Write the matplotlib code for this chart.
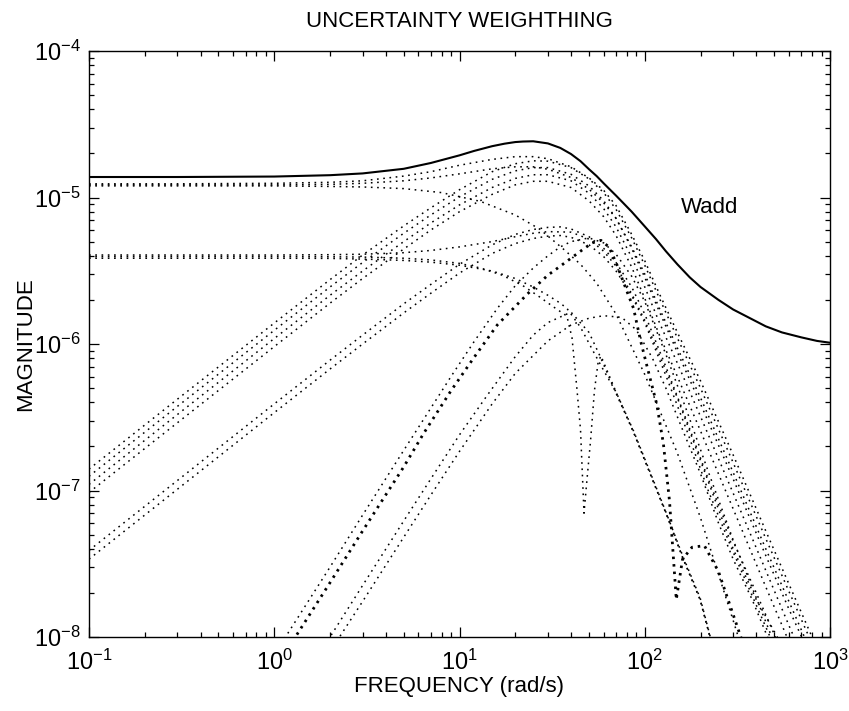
"""Uncertainty weighting: additive weight Wadd bounding the model error curves."""

import matplotlib
matplotlib.use("Agg")
import matplotlib.pyplot as plt
from matplotlib import font_manager
from matplotlib.ticker import LogLocator, NullFormatter


# solid bound
WADD_FREQ = [0.1, 0.3, 1, 2, 3, 5, 7, 10, 12, 15, 17.5, 20, 22, 25, 30, 35, 40, 45, 50, 55,
             60, 65, 70, 77, 85, 92, 100, 115, 130, 150, 175, 200, 250, 300, 370, 450, 550,
             700, 850, 1000]
WADD_MAG = [1.38e-5, 1.38e-5, 1.39e-5, 1.42e-5, 1.46e-5, 1.57e-5, 1.72e-5, 1.94e-5, 2.08e-5,
            2.24e-5, 2.33e-5, 2.39e-5, 2.41e-5, 2.42e-5, 2.34e-5, 2.18e-5, 1.98e-5, 1.77e-5,
            1.56e-5, 1.4e-5, 1.25e-5, 1.13e-5, 1.03e-5, 9.1e-6, 8.0e-6, 7.15e-6, 6.35e-6,
            5.2e-6, 4.3e-6, 3.5e-6, 2.85e-6, 2.45e-6, 2.0e-6, 1.72e-6, 1.5e-6, 1.32e-6,
            1.2e-6, 1.11e-6, 1.05e-6, 1.02e-6]

# dotted error curves, main band
GRID_MAIN = [0.1, 0.3, 1, 2, 3, 5, 7, 10, 15, 20, 25, 30, 40, 50, 60, 70, 85, 100, 120, 150,
             200, 300, 450, 600, 800, 1000]
A1_MAG = [1.24e-5, 1.24e-5, 1.25e-5, 1.27e-5, 1.3e-5, 1.4e-5, 1.5e-5, 1.66e-5, 1.82e-5, 1.9e-5,
          1.9e-5, 1.84e-5, 1.62e-5, 1.36e-5, 1.12e-5, 8.8e-6, 5.6e-6, 3.7e-6, 2.2e-6, 1.2e-6,
          5.6e-7, 1.75e-7, 5.3e-8, 2.3e-8, 1.0e-8, 5.2e-9]
A2_MAG = [1.22e-5, 1.22e-5, 1.22e-5, 1.23e-5, 1.25e-5, 1.3e-5, 1.36e-5, 1.45e-5, 1.57e-5,
          1.62e-5, 1.62e-5, 1.56e-5, 1.37e-5, 1.14e-5, 9.2e-6, 7.2e-6, 4.6e-6, 3.0e-6, 1.75e-6,
          9.4e-7, 4.3e-7, 1.33e-7, 4.0e-8, 1.75e-8, 7.6e-9, 4e-9]
C1_MAG = [1.4e-7, 4.2e-7, 1.39e-6, 2.75e-6, 4.05e-6, 6.4e-6, 8.5e-6, 1.13e-5, 1.5e-5, 1.7e-5,
          1.78e-5, 1.77e-5, 1.6e-5, 1.34e-5, 1.08e-5, 8.3e-6, 5.3e-6, 3.45e-6, 2.05e-6, 1.1e-6,
          5.0e-7, 1.55e-7, 4.7e-8, 2.05e-8, 9e-9, 4.5e-9]
C2_MAG = [1.25e-7, 3.75e-7, 1.24e-6, 2.45e-6, 3.6e-6, 5.7e-6, 7.6e-6, 1.01e-5, 1.33e-5, 1.52e-5,
          1.6e-5, 1.6e-5, 1.44e-5, 1.2e-5, 9.5e-6, 7.2e-6, 4.5e-6, 2.85e-6, 1.66e-6, 8.8e-7,
          3.9e-7, 1.2e-7, 3.6e-8, 1.55e-8, 7e-9, 3.4e-9]
C3_MAG = [1.1e-7, 3.3e-7, 1.09e-6, 2.15e-6, 3.15e-6, 5.0e-6, 6.7e-6, 8.9e-6, 1.17e-5, 1.35e-5,
          1.43e-5, 1.43e-5, 1.3e-5, 1.07e-5, 8.4e-6, 6.3e-6, 3.9e-6, 2.45e-6, 1.4e-6, 7.4e-7,
          3.2e-7, 9.6e-8, 2.85e-8, 1.2e-8, 5.2e-9, 2.6e-9]
C4_MAG = [9.7e-8, 2.9e-7, 9.6e-7, 1.9e-6, 2.8e-6, 4.45e-6, 6.0e-6, 8.0e-6, 1.05e-5, 1.22e-5,
          1.29e-5, 1.29e-5, 1.17e-5, 9.5e-6, 7.4e-6, 5.5e-6, 3.35e-6, 2.05e-6, 1.15e-6, 6.0e-7,
          2.55e-7, 7.5e-8, 2.2e-8, 9.3e-9, 4e-9, 2e-9]

# flat start that rolls off early
A3_FREQ = [0.1, 0.3, 1, 2, 3, 5, 8, 13, 20, 27, 36, 45, 55, 70, 100, 150, 200, 300, 400]
A3_MAG = [1.2e-5, 1.2e-5, 1.2e-5, 1.19e-5, 1.18e-5, 1.15e-5, 1.08e-5, 9.4e-6, 7.6e-6, 6.1e-6,
          4.5e-6, 3.5e-6, 2.6e-6, 1.6e-6, 6.2e-7, 1.8e-7, 6.5e-8, 1.3e-8, 4e-9]

# curves flat near 4e-6
B1_FREQ = [0.1, 0.3, 1, 2, 3, 5, 7, 10, 15, 20, 25, 30, 40, 50, 60, 70, 85, 100, 150, 200, 300,
           400, 520]
B1_MAG = [4.05e-6, 4.05e-6, 4.05e-6, 4.07e-6, 4.1e-6, 4.2e-6, 4.35e-6, 4.6e-6, 5.0e-6, 5.4e-6,
          5.7e-6, 5.85e-6, 5.8e-6, 5.2e-6, 4.3e-6, 3.4e-6, 2.2e-6, 1.45e-6, 4.3e-7, 1.6e-7,
          4e-8, 1.8e-8, 1e-8]
B2_FREQ = [0.1, 0.3, 1, 2, 3, 5, 7, 10, 13, 17, 22, 27, 32, 38, 40.5, 43, 45, 47, 48.5, 51,
           53.5, 56, 58, 70, 87, 107, 132, 160, 199, 225, 260]
B2_MAG = [3.95e-6, 3.95e-6, 3.95e-6, 3.94e-6, 3.92e-6, 3.85e-6, 3.75e-6, 3.55e-6, 3.3e-6,
          2.95e-6, 2.5e-6, 2.1e-6, 1.8e-6, 1.55e-6, 1.1e-6, 5e-7, 2.6e-7, 7e-8, 1.1e-7, 2.2e-7,
          4.8e-7, 7.5e-7, 8.3e-7, 4.7e-7, 2.5e-7, 1.3e-7, 6.7e-8, 3.5e-8, 1.8e-8, 1.0e-8, 6e-9]
B3_FREQ = [0.1, 0.3, 1, 2, 3, 5, 7, 10, 15, 20, 25, 30, 35, 38, 45, 53, 60, 70, 87, 107, 132,
           160, 199, 225, 260]
B3_MAG = [3.85e-6, 3.85e-6, 3.85e-6, 3.84e-6, 3.8e-6, 3.72e-6, 3.62e-6, 3.45e-6, 3.15e-6,
          2.8e-6, 2.45e-6, 2.15e-6, 1.9e-6, 1.75e-6, 1.3e-6, 8.8e-7, 6.6e-7, 4.7e-7, 2.55e-7,
          1.33e-7, 6.8e-8, 3.6e-8, 1.85e-8, 1.02e-8, 6e-9]

# rising from ~4e-8 at 0.1 rad/s
D_FREQ = [0.1, 0.3, 1, 2, 3, 5, 7, 10, 15, 20, 25, 30, 35, 40, 50, 60, 70, 85, 100, 130, 170,
          220, 300, 400, 560, 700]
D1_MAG = [3.9e-8, 1.17e-7, 3.9e-7, 7.75e-7, 1.15e-6, 1.88e-6, 2.55e-6, 3.5e-6, 4.75e-6, 5.6e-6,
          6.05e-6, 6.25e-6, 6.3e-6, 6.1e-6, 5.4e-6, 4.5e-6, 3.6e-6, 2.45e-6, 1.6e-6, 7e-7,
          2.9e-7, 1.2e-7, 4.5e-8, 2.0e-8, 7.5e-9, 4e-9]
D2_MAG = [3.4e-8, 1.02e-7, 3.4e-7, 6.75e-7, 1.0e-6, 1.63e-6, 2.22e-6, 3.05e-6, 4.15e-6, 4.85e-6,
          5.25e-6, 5.45e-6, 5.5e-6, 5.35e-6, 4.75e-6, 3.95e-6, 3.15e-6, 2.15e-6, 1.4e-6, 6.1e-7,
          2.5e-7, 1.0e-7, 3.8e-8, 1.65e-8, 6.2e-9, 3.3e-9]

# steep risers entering above 1 rad/s
E1_FREQ = [1.0, 1.15, 2, 3, 5, 7, 9, 12, 16, 20, 25, 30, 35, 40, 50, 60, 70, 85, 100, 130, 170,
           220, 300, 400, 520, 650]
E1_MAG = [7.6e-9, 1e-8, 3.0e-8, 6.8e-8, 1.88e-7, 3.65e-7, 6.0e-7, 1.04e-6, 1.75e-6, 2.5e-6,
          3.3e-6, 4.0e-6, 4.6e-6, 5.0e-6, 5.3e-6, 4.9e-6, 4.1e-6, 2.9e-6, 1.95e-6, 8.5e-7,
          3.4e-7, 1.35e-7, 4.6e-8, 1.85e-8, 8e-9, 4e-9]
E2_FREQ = [1.2, 1.3, 2, 3, 5, 6.4, 9, 11.9, 16, 23.3, 30, 35, 45, 52, 58, 64, 70, 80, 87, 95,
           103, 116, 126, 136, 148, 160, 180, 210, 250, 330, 400]
E2_MAG = [8.5e-9, 1e-8, 2.35e-8, 5.3e-8, 1.45e-7, 2.45e-7, 4.8e-7, 8.0e-7, 1.35e-6, 2.2e-6,
          2.95e-6, 3.4e-6, 4.3e-6, 4.9e-6, 5.1e-6, 4.6e-6, 3.6e-6, 2.3e-6, 1.75e-6, 1.05e-6,
          7e-7, 3.9e-7, 2.1e-7, 8.5e-8, 1.8e-8, 3.4e-8, 4.1e-8, 4.2e-8, 2.8e-8, 1.0e-8, 5.5e-9]
F1_FREQ = [1.8, 2, 3, 5, 7, 10, 14, 20, 25, 30, 40, 50, 57, 70, 87, 107, 132, 160, 199, 225, 250]
F1_MAG = [8e-9, 1e-8, 2.25e-8, 6.2e-8, 1.2e-7, 2.4e-7, 4.4e-7, 8.2e-7, 1.15e-6, 1.4e-6, 1.65e-6,
          1.2e-6, 8.4e-7, 4.6e-7, 2.5e-7, 1.3e-7, 6.7e-8, 3.5e-8, 1.8e-8, 1.0e-8, 7e-9]
F2_FREQ = [2, 2.25, 3, 5, 7, 10, 15, 20, 30, 40, 50, 60, 75, 90, 110, 130, 160, 200, 250, 300,
           380, 460, 550]
F2_MAG = [7.9e-9, 1e-8, 1.75e-8, 4.8e-8, 9.3e-8, 1.85e-7, 3.9e-7, 6.3e-7, 1.05e-6, 1.35e-6,
          1.5e-6, 1.56e-6, 1.52e-6, 1.25e-6, 8e-7, 5e-7, 2.6e-7, 1.3e-7, 6e-8, 3.4e-8, 1.8e-8,
          1e-8, 5.5e-9]

LABEL_FREQ = 225.0
LABEL_MAG = 8.5e-6


def _pick_font() -> str:
    names = {f.name for f in font_manager.fontManager.ttflist}
    for name in ("Liberation Sans", "Arimo", "DejaVu Sans"):
        if name in names:
            return name
    return "DejaVu Sans"


FONT = _pick_font()
plt.rcParams.update({
    "font.family": [FONT, "DejaVu Sans"],
    "font.size": 16,
    "mathtext.fontset": "custom",
    "mathtext.rm": FONT,
    "mathtext.it": FONT,
    "mathtext.default": "regular",
    "axes.unicode_minus": False,
})


def main() -> None:
    fig = plt.figure(figsize=(8.49, 7.11), dpi=100)
    ax = fig.add_axes([89 / 849, 1 - 637 / 711, (830 - 89) / 849, (637 - 51) / 711])

    dotted = dict(color="black", linewidth=1.1, linestyle=(0, (1.1, 3.0)))
    main_band = [A1_MAG, A2_MAG, C1_MAG, C2_MAG, C3_MAG, C4_MAG]
    for mag in main_band:
        ax.plot(GRID_MAIN, mag, **dotted)
    for mag in (D1_MAG, D2_MAG):
        ax.plot(D_FREQ, mag, **dotted)
    others = [(A3_FREQ, A3_MAG), (B1_FREQ, B1_MAG), (B2_FREQ, B2_MAG), (B3_FREQ, B3_MAG),
              (E1_FREQ, E1_MAG), (F1_FREQ, F1_MAG), (F2_FREQ, F2_MAG)]
    for freq, mag in others:
        ax.plot(freq, mag, **dotted)
    # the heavier dotted riser
    ax.plot(E2_FREQ, E2_MAG, color="black", linewidth=2.0, linestyle=(0, (0.9, 1.8)))

    ax.plot(WADD_FREQ, WADD_MAG, color="black", linewidth=1.5)
    ax.text(LABEL_FREQ, LABEL_MAG, "Wadd", fontsize=16, ha="center", va="center")

    ax.set_xscale("log")
    ax.set_yscale("log")
    ax.set_xlim(0.1, 1000)
    ax.set_ylim(1e-8, 1e-4)
    for axis in (ax.xaxis, ax.yaxis):
        axis.set_major_locator(LogLocator(base=10, numticks=12))
        axis.set_minor_locator(LogLocator(base=10, subs=range(2, 10), numticks=12))
        axis.set_minor_formatter(NullFormatter())
    ax.tick_params(which="both", direction="in", top=True, right=True, width=0.9)
    ax.tick_params(which="major", length=7, labelsize=17)
    ax.tick_params(which="minor", length=3.5)
    ax.tick_params(axis="x", which="major", pad=9)
    ax.tick_params(axis="y", which="major", pad=6)
    for spine in ax.spines.values():
        spine.set_linewidth(1.0)

    ax.set_title("UNCERTAINTY WEIGHTHING", fontsize=16, pad=17)
    ax.set_xlabel("FREQUENCY (rad/s)", fontsize=16, labelpad=1)
    ax.set_ylabel("MAGNITUDE", fontsize=16, labelpad=-2)

    fig.savefig("out.png", dpi=100)


if __name__ == "__main__":
    main()
